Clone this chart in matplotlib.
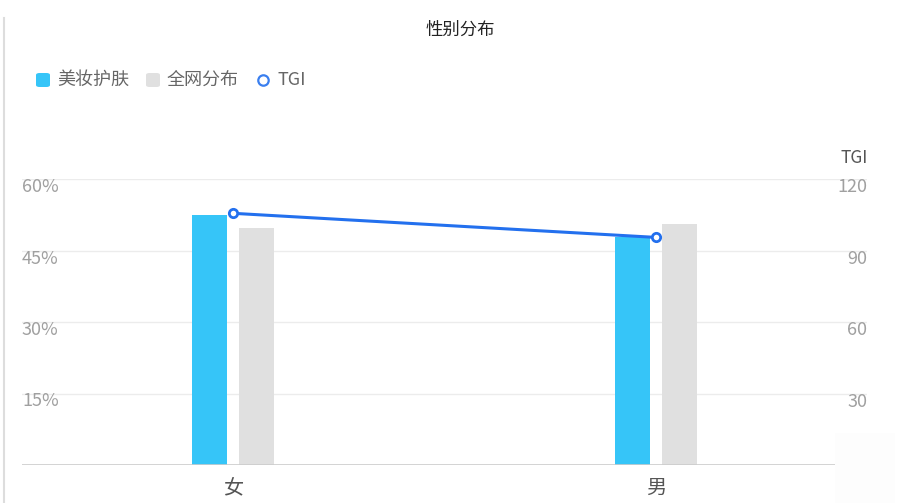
import matplotlib
matplotlib.use("Agg")
import matplotlib.pyplot as plt
from matplotlib.patches import FancyBboxPatch, Rectangle
from matplotlib.lines import Line2D
import numpy as np

plt.rcParams['font.family'] = ['Noto Sans CJK SC', 'DejaVu Sans']

categories = ['女', '男']
beauty = [52.4, 47.8]
overall = [49.7, 50.6]
tgi = [105.6, 95.5]
left_ticks = [15, 30, 45, 60]
left_labels = ['15%', '30%', '45%', '60%']
right_ticks = [30, 60, 90, 120]
right_labels = ['30', '60', '90', '120']

W, H = 900, 503
fig = plt.figure(figsize=(W / 100, H / 100), dpi=100)
ax = fig.add_axes([22 / W, 1 - 465 / H, (867 - 22) / W, (465 - 179) / H])
ax2 = ax.twinx()

x = np.arange(len(categories))
bw = 35 / 422
off = 23.5 / 422
ax.bar(x - off, beauty, width=bw, color='#36c5f8', zorder=2)
ax.bar(x + off, overall, width=bw, color='#e0e0e0', zorder=2)
ax.set_xlim(-0.5, 1.5)
ax.set_ylim(0, 60)
ax2.set_ylim(0, 120)

ax2.plot(x, tgi, color='#2370ee', lw=2.2, marker='o', ms=6, mfc='white',
         mec='#2370ee', mew=2, zorder=5)

for a in (ax, ax2):
    for s in a.spines.values():
        s.set_visible(False)
    a.set_yticks([])
ax.tick_params(axis='x', length=0, pad=9, labelsize=14.5, labelcolor='#555555')
ax.set_xticks(x)
ax.set_xticklabels(categories)

for t in left_ticks:
    ax.axhline(t, color='#ececec', lw=1, zorder=0)
ax.axhline(0, color='#cccccc', lw=1.2, zorder=3)

for t, l in zip(left_ticks, left_labels):
    ax.annotate(l, xy=(0, t), xycoords=('axes fraction', 'data'),
                xytext=(0, -8), textcoords='offset pixels',
                ha='left', va='center', fontsize=13, color='#a0a0a0')
for t, l in zip(right_ticks, right_labels):
    ax2.annotate(l, xy=(1, t), xycoords=('axes fraction', 'data'),
                 xytext=(0, -8), textcoords='offset pixels',
                 ha='right', va='center', fontsize=13, color='#a0a0a0')
fig.text(868 / W, 1 - 158 / H, 'TGI', ha='right', va='center', fontsize=12.5,
         color='#555555')

fig.text(460 / W, 1 - 30 / H, '性别分布', ha='center', va='center', fontsize=12.5,
         color='#222222')

# left border line
fig.add_artist(Line2D([4 / W, 4 / W], [0, 1 - 18 / H], color='#dddddd', lw=1.5))

# legend
ly = 1 - 80 / H
def sq(x0, color):
    fig.add_artist(FancyBboxPatch((x0 / W, ly - 7 / H), 14 / W, 14 / H,
                                  boxstyle='round,pad=0,rounding_size=0.004',
                                  transform=fig.transFigure, color=color, lw=0))
sq(36, '#36c5f8')
fig.text(57 / W, ly, '美妆护肤', ha='left', va='center', fontsize=13, color='#666666')
sq(146, '#e0e0e0')
fig.text(167 / W, ly, '全网分布', ha='left', va='center', fontsize=13, color='#666666')
fig.add_artist(Line2D([263 / W], [ly], marker='o', ms=7.5, mfc='white', mec='#3a7fef',
                      mew=1.6, transform=fig.transFigure))
fig.text(277 / W, ly, 'TGI', ha='left', va='center', fontsize=13, color='#666666')

# watermark-like patch bottom right
fig.add_artist(Rectangle((835 / W, 0), 60 / W, 70 / H, transform=fig.transFigure,
                         color='#fdfdfd', lw=0, zorder=10))

fig.savefig('out.png', dpi=100)
